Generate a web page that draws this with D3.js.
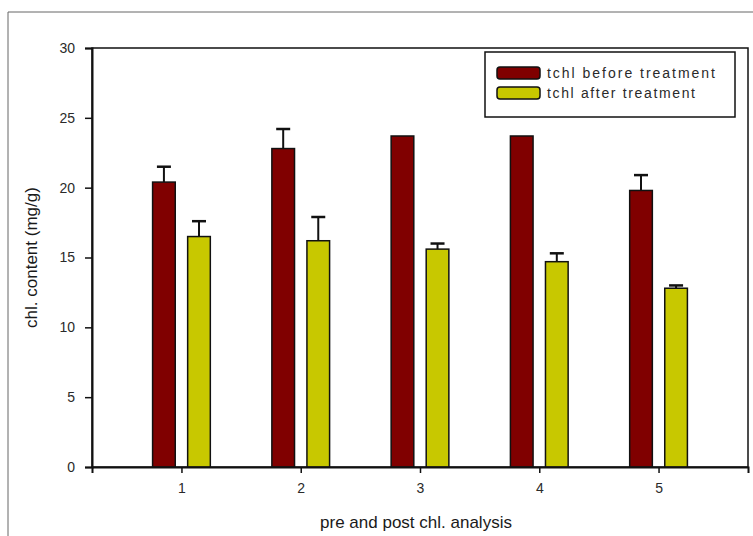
<!DOCTYPE html>
<html><head><meta charset="utf-8">
<script src="https://cdn.jsdelivr.net/npm/d3@7"></script>
<style>
html,body{margin:0;padding:0;background:#fff;}
svg{display:block;font-family:Arial,"Liberation Sans",sans-serif;}
</style></head>
<body>
<svg id="chart" width="753" height="536"></svg>
<script>
const categories = [1, 2, 3, 4, 5];
const beforeValues = [20.4, 22.8, 23.7, 23.7, 19.8];
const beforeErrors = [1.1, 1.4, 0, 0, 1.1];
const afterValues = [16.5, 16.2, 15.6, 14.7, 12.8];
const afterErrors = [1.1, 1.7, 0.4, 0.6, 0.2];
const yTicks = [0, 5, 10, 15, 20, 25, 30];
const seriesNames = ["tchl before treatment", "tchl after treatment"];
const seriesColors = ["#800000", "#c8c800"];

(function () {
const svg = d3.select("#chart");
const pL = 92, pR = 748, pT = 48, pB = 467;

// outer figure border
svg.append("path").attr("d", "M8,536 V12 H753").attr("fill", "none")
  .attr("stroke", "#666").attr("stroke-width", 1);

const x = d3.scaleLinear().domain([0.25, 5.75]).range([pL, pR]);
const y = d3.scaleLinear().domain([0, 30]).range([pB, pT]);

const barW = x(0.19) - x(0);
const off = x(0.147) - x(0);

// plot frame
svg.append("rect").attr("x", pL).attr("y", pT).attr("width", pR - pL)
  .attr("height", pB - pT).attr("fill", "none").attr("stroke", "#111").attr("stroke-width", 1.5);

const series = [
  {vals: beforeValues, errs: beforeErrors, color: seriesColors[0], shift: -1},
  {vals: afterValues, errs: afterErrors, color: seriesColors[1], shift: 1}
];

series.forEach(s => {
  const g = svg.append("g");
  categories.forEach((c, i) => {
    const cx = x(c) + s.shift * off;
    const v = s.vals[i], e = s.errs[i];
    if (e > 0) {
      g.append("line").attr("x1", cx).attr("x2", cx).attr("y1", y(v)).attr("y2", y(v + e))
        .attr("stroke", "#111").attr("stroke-width", 2);
      g.append("line").attr("x1", cx - 7).attr("x2", cx + 7).attr("y1", y(v + e)).attr("y2", y(v + e))
        .attr("stroke", "#111").attr("stroke-width", 2.5);
    }
    g.append("rect").attr("x", cx - barW / 2).attr("y", y(v)).attr("width", barW)
      .attr("height", y(0) - y(v)).attr("fill", s.color).attr("stroke", "#111").attr("stroke-width", 1.5);
  });
});

// y axis
const yAxis = d3.axisLeft(y).tickValues(yTicks).tickSize(7).tickPadding(10);
const ya = svg.append("g").attr("transform", `translate(${pL},0)`).call(yAxis);
ya.select(".domain").attr("stroke", "#111").attr("stroke-width", 2);
ya.selectAll(".tick line").attr("stroke", "#111").attr("stroke-width", 1.5);
ya.selectAll(".tick text").attr("fill", "#2a2a2a").attr("font-size", 14).attr("font-family", "Arial, 'Liberation Sans', sans-serif");

// x axis
const xAxis = d3.axisBottom(x).tickValues(categories).tickSize(6).tickPadding(10).tickFormat(d3.format("d"));
const xa = svg.append("g").attr("transform", `translate(0,${pB})`).call(xAxis);
xa.select(".domain").attr("stroke", "#111").attr("stroke-width", 2);
xa.selectAll(".tick line").attr("stroke", "#111").attr("stroke-width", 1.5);
xa.selectAll(".tick text").attr("fill", "#2a2a2a").attr("font-size", 14).attr("font-family", "Arial, 'Liberation Sans', sans-serif");

// axis titles
svg.append("text").attr("x", (pL + pR) / 2 - 4).attr("y", 528).attr("text-anchor", "middle")
  .attr("font-size", 17).attr("fill", "#1a1a1a").text("pre and post chl. analysis");
svg.append("text").attr("transform", `translate(37,${(pT + pB) / 2}) rotate(-90)`)
  .attr("text-anchor", "middle").attr("font-size", 17).attr("fill", "#1a1a1a").text("chl. content (mg/g)");

// legend
const lg = svg.append("g");
lg.append("rect").attr("x", 485).attr("y", 52).attr("width", 250).attr("height", 65)
  .attr("fill", "#fff").attr("stroke", "#111").attr("stroke-width", 1.5);
seriesNames.forEach((n, i) => {
  const yy = 73 + i * 20;
  lg.append("rect").attr("x", 497).attr("y", yy - 6).attr("width", 43).attr("height", 12)
    .attr("rx", 3).attr("fill", seriesColors[i]).attr("stroke", "#111").attr("stroke-width", 1.5);
  lg.append("text").attr("x", 547).attr("y", yy + 5).attr("font-size", 14).attr("fill", "#2a2a2a")
    .attr("textLength", i === 0 ? 168 : 148).attr("lengthAdjust", "spacing").text(n);
});
})();
</script>
</body></html>
